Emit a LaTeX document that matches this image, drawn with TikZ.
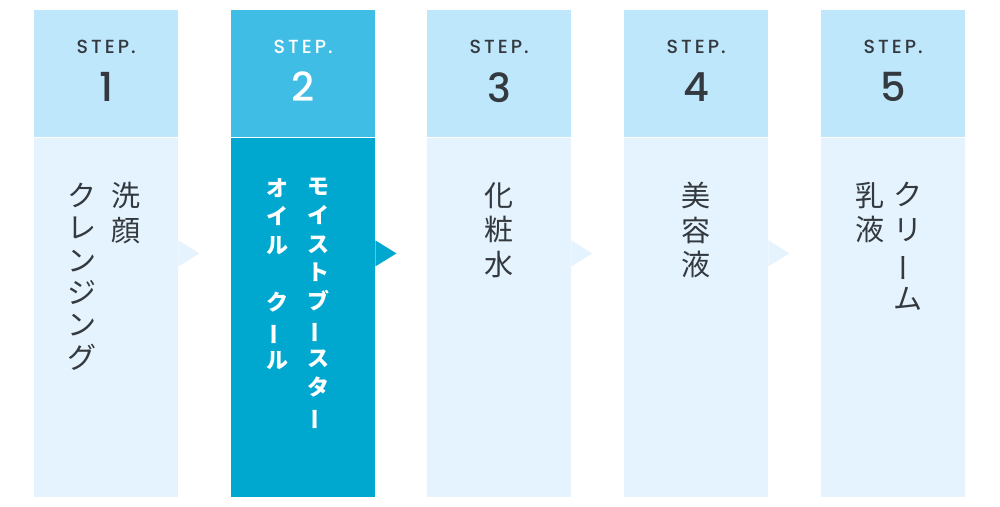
\documentclass[tikz,border=0pt]{standalone}
\usepackage{fontspec}
\usepackage{graphicx}
\usepackage{xcolor}
\usetikzlibrary{positioning}
\newfontfamily\jpfont{Noto Sans CJK JP}
\newfontfamily\stepfont{Poppins}[UprightFont={* Medium}]
\definecolor{headlight}{HTML}{BFE7FC}
\definecolor{bodylight}{HTML}{E4F3FD}
\definecolor{headdark}{HTML}{40BDE4}
\definecolor{bodydark}{HTML}{00A8D0}
\definecolor{textgray}{HTML}{33393E}
\newcommand{\chouon}{\rotatebox[origin=c]{90}{ー}}

\begin{document}
\begin{tikzpicture}[x=1pt,y=-1pt]
  \tikzstyle{head}=[rectangle,inner sep=0pt,minimum width=144pt,minimum height=127pt,anchor=north west]
  \tikzstyle{body}=[rectangle,inner sep=0pt,minimum width=144pt,minimum height=359pt]
  \tikzstyle{steplabel}=[inner sep=0pt,font=\stepfont\fontsize{19}{19}\selectfont]
  \tikzstyle{stepnum}=[inner sep=0pt,font=\stepfont\fontsize{40}{40}\selectfont]
  \tikzstyle{tate}=[align=center,anchor=north,inner sep=0pt,text=textgray,font=\jpfont\fontsize{29}{34.5}\selectfont]
  \tikzstyle{tatewhite}=[tate,text=white,font=\jpfont\bfseries\fontsize{22}{28.7}\selectfont]
  \useasboundingbox (0,0) rectangle (1000,506);

  \foreach \name/\x/\hc/\bc/\tc in {S-1/34/headlight/bodylight/textgray, S-2/231/headdark/bodydark/white,
                                    S-3/427/headlight/bodylight/textgray, S-4/624/headlight/bodylight/textgray,
                                    S-5/821/headlight/bodylight/textgray}
  {
    \node[head,fill=\hc] (\name-head) at (\x,10) {};
    \node[body,fill=\bc,below=0pt of \name-head] (\name-body) {};
    \node[steplabel,text=\tc,below=30pt of \name-head.north] (\name-label) {S\kern3pt T\kern3pt E\kern3pt P\kern2pt.};
  }
  \foreach \name/\num/\tc in {S-1/1/textgray, S-2/2/white, S-3/3/textgray, S-4/4/textgray, S-5/5/textgray}
    \node[stepnum,text=\tc,below=62pt of \name-head.north] (\name-num) {\num};

  % pointers between the steps
  \foreach \name/\bc in {S-1/bodylight, S-2/bodydark, S-3/bodylight, S-4/bodylight}
    { \fill[\bc] ([yshift=-103pt]\name-body.north east) -- ++(21,13) -- ++(-21,13) -- cycle; }

  \node[tate] (S-1-a) at (126,182) {洗\\顔};
  \node[tate,font=\jpfont\fontsize{29}{32.3}\selectfont] (S-1-b) at (82,183) {ク\\レ\\ン\\ジ\\ン\\グ};
  \node[tatewhite] (S-2-a) at (318,178) {モ\\イ\\ス\\ト\\ブ\\\chouon\\ス\\タ\\\chouon};
  \node[tatewhite] (S-2-b) at (277,178) {オ\\イ\\ル\\\mbox{}\\ク\\\chouon\\ル};
  \node[tate] (S-3-a) at (499,182) {化\\粧\\水};
  \node[tate] (S-4-a) at (696,182) {美\\容\\液};
  \node[tate] (S-5-a) at (908,182) {ク\\リ\\\chouon\\ム};
  \node[tate] (S-5-b) at (870,182) {乳\\液};
\end{tikzpicture}
\end{document}
